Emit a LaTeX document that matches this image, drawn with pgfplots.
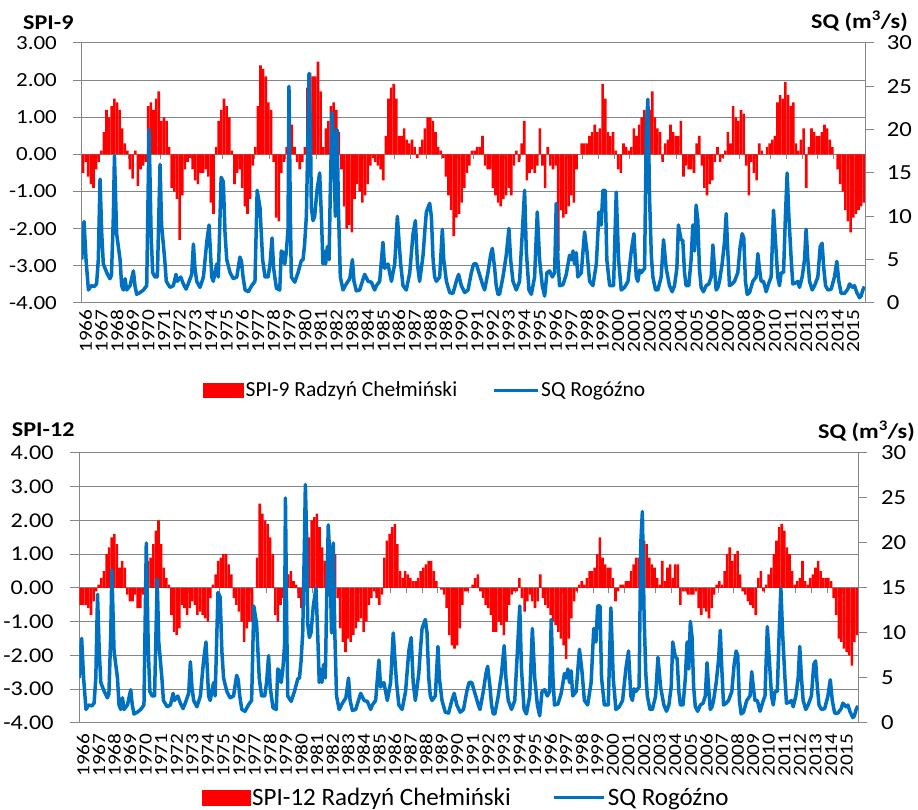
\documentclass[border=0pt]{standalone}
\usepackage{fontspec}
\setmainfont{Carlito}
\newfontfamily\tickfont{Carlito}[FakeStretch=1.15]
\usepackage{pgfplots}
\usepackage{pgfplotstable}
\pgfplotsset{compat=1.18}
\definecolor{spired}{RGB}{255,0,0}
\definecolor{sqblue}{RGB}{0,112,192}
\definecolor{gridgray}{RGB}{134,134,134}

% SPI-9, bimonthly values (Jan-Feb, Mar-Apr, ..., Nov-Dec)
\pgfplotstableread{
yr b1 b2 b3 b4 b5 b6
1966 -0.5 -0.2 -0.6 -0.8 -0.9 -0.4
1967 -0.2 0.1 0.6 1.2 1.0 1.3
1968 1.5 1.4 1.2 0.7 0.3 0.1
1969 -0.4 -0.65 0.1 -0.85 -0.4 -0.3
1970 -0.2 1.3 1.4 1.2 1.5 1.7
1971 0.9 1.0 0.9 0.2 -0.9 -1.0
1972 -1.2 -2.3 -1.1 -0.4 -0.2 -0.1
1973 -0.4 -0.7 -0.8 -0.5 -0.5 -0.4
1974 -0.6 -1.3 -1.6 0.2 0.9 1.2
1975 1.5 1.3 1.0 0.1 -0.8 -0.5
1976 -0.4 -0.9 -1.4 -1.6 -1.2 -0.3
1977 0.2 1.3 2.4 2.3 2.1 1.4
1978 1.2 -0.2 -1.7 -1.8 -0.5 -0.2
1979 0.2 0.4 0.8 0.2 -0.2 -0.4
1980 -0.2 0.2 1.8 2.2 2.1 2.1
1981 2.5 1.7 0.2 0.7 0.9 1.3
1982 1.4 1.2 0.6 -0.4 -1.4 -2.0
1983 -1.9 -2.1 -1.2 -0.8 -1.0 -1.3
1984 -1.1 -0.8 -0.3 -0.1 -0.2 -0.3
1985 -0.4 -0.7 0.5 1.5 1.8 1.9
1986 1.5 0.5 0.5 0.7 0.4 0.3
1987 0.4 0.2 -0.1 0.2 0.4 0.7
1988 1.0 1.0 0.9 0.6 0.2 0.1
1989 -0.1 -0.6 -1.1 -1.5 -2.2 -1.7
1990 -1.6 -1.3 -0.9 -0.5 -0.3 0.1
1991 0.1 0.2 0.2 0.5 -0.3 -0.4
1992 -0.4 -0.9 -1.1 -1.3 -1.4 -1.2
1993 -1.1 -0.9 -1.1 -0.3 0.1 -0.2
1994 0.3 0.9 -0.7 -0.5 -0.4 -0.5
1995 -0.3 0.7 -0.3 -0.9 0.2 -0.3
1996 -0.4 -0.3 -2.6 -1.5 -1.7 -1.6
1997 -1.4 -1.1 -1.3 -0.4 0.0 0.3
1998 0.3 0.3 0.5 0.6 0.8 0.6
1999 0.7 1.9 1.5 0.6 0.5 0.6
2000 0.1 -0.4 -0.5 0.3 0.2 0.1
2001 0.2 0.7 0.5 0.8 1.0 1.2
2002 1.0 1.2 1.7 1.0 0.7 0.6
2003 -0.2 0.3 0.4 0.8 0.6 0.5
2004 0.5 0.9 -0.6 -0.3 -0.4 -0.4
2005 -0.5 0.3 0.5 -0.3 -0.9 -1.1
2006 -0.8 -0.7 -0.2 0.2 -0.2 -0.1
2007 0.1 0.6 0.3 1.3 1.0 0.9
2008 1.2 1.1 -0.3 -1.1 -0.2 -0.5
2009 -0.7 0.3 0.1 0.0 0.2 0.3
2010 0.4 0.5 1.4 1.6 1.5 1.95
2011 1.6 1.3 1.4 0.3 0.1 0.4
2012 0.7 -0.9 0.2 0.7 0.6 0.5
2013 0.5 0.6 0.8 0.7 0.4 0.2
2014 0.0 -0.4 -0.8 -1.0 -1.5 -1.8
2015 -2.1 -1.7 -1.6 -1.5 -1.4 -1.3
}\spinine

% SPI-12, bimonthly values
\pgfplotstableread{
yr b1 b2 b3 b4 b5 b6
1966 -0.5 -0.5 -0.5 -0.6 -0.8 -0.4
1967 -0.1 0.1 0.3 0.5 1.0 1.2
1968 1.5 1.6 1.3 0.6 0.8 0.6
1969 -0.2 -0.4 -0.4 -0.2 -0.6 -0.6
1970 -0.2 0.0 0.8 0.9 1.3 1.7
1971 2.0 1.3 0.6 0.3 0.1 -0.8
1972 -1.3 -1.4 -1.2 -0.5 -0.6 -0.8
1973 -0.6 -0.4 -0.5 -0.8 -0.7 -0.8
1974 -0.9 -1.0 -0.3 0.1 0.4 0.8
1975 0.9 1.0 1.0 0.7 0.4 -0.3
1976 -0.5 -0.7 -1.0 -1.6 -1.2 -1.0
1977 -1.0 0.0 0.9 2.5 2.2 2.0
1978 1.9 1.5 1.0 -0.8 -1.0 -0.5
1979 -0.3 0.1 0.4 0.5 0.2 0.1
1980 -0.3 -0.6 -0.1 0.3 1.5 2.0
1981 2.1 2.2 1.8 1.2 0.8 1.0
1982 1.0 1.1 1.0 -0.3 -1.2 -1.6
1983 -1.9 -1.5 -1.6 -1.4 -1.2 -1.0
1984 -0.9 -1.3 -1.0 -0.5 -0.3 -0.1
1985 -0.3 -0.5 -0.2 0.9 1.4 1.6
1986 1.8 1.9 1.3 0.5 0.3 0.5
1987 0.4 0.3 0.2 0.2 0.3 0.5
1988 0.6 0.7 0.8 0.8 0.5 0.2
1989 0.0 -0.05 -0.2 -0.6 -1.4 -1.7
1990 -1.8 -1.7 -1.2 -0.5 -0.1 -0.1
1991 0.0 0.1 0.3 0.4 -0.1 -0.3
1992 -0.5 -0.6 -0.8 -1.3 -1.3 -1.0
1993 -1.1 -1.4 -1.0 -0.5 -0.2 -0.1
1994 -0.1 0.3 -0.3 -0.7 -0.4 -0.2
1995 -0.4 -0.6 -0.4 0.4 -0.3 -0.5
1996 -0.6 -0.8 -1.0 -1.1 -1.3 -1.5
1997 -1.7 -2.1 -1.5 -0.9 -0.4 -0.1
1998 0.1 0.2 0.1 0.3 0.5 0.5
1999 0.6 1.0 1.5 0.9 0.7 0.6
2000 0.6 0.3 -0.4 -0.1 0.1 0.1
2001 0.2 0.2 0.5 0.7 0.9 0.9
2002 0.8 1.4 1.3 0.9 0.7 0.6
2003 0.3 0.1 0.8 0.2 0.6 0.7
2004 0.3 0.7 0.7 -0.5 -0.1 -0.1
2005 -0.2 -0.2 -0.2 -0.1 -0.6 -0.8
2006 -0.6 -0.7 -0.9 -0.6 -0.2 0.1
2007 0.2 0.1 0.5 1.0 1.2 0.8
2008 1.0 1.1 0.4 -0.1 -0.2 -0.4
2009 -0.5 -0.6 -0.8 0.3 0.5 -0.1
2010 0.1 0.4 0.6 1.0 1.4 1.8
2011 1.9 1.7 1.2 1.0 0.5 0.1
2012 0.2 0.3 0.8 0.2 0.1 0.3
2013 0.4 0.6 0.8 0.5 0.3 0.3
2014 0.3 0.2 -0.3 -0.8 -1.5 -1.6
2015 -1.8 -1.9 -2.0 -2.3 -1.6 -1.4
}\spitwelve

% SQ Rogozno (m3/s)
\pgfplotstableread{
x y
1966.0 5.0
1966.15 9.4
1966.28 4.9
1966.43 1.5
1966.6 2.0
1966.8 1.9
1966.95 2.2
1967.06 5.0
1967.17 14.3
1967.28 8.0
1967.38 4.5
1967.6 3.5
1967.8 2.8
1967.9 3.2
1968.02 10.0
1968.09 17.0
1968.23 8.0
1968.45 5.0
1968.55 2.0
1968.66 1.5
1968.77 2.8
1968.87 1.5
1969.09 2.0
1969.3 3.7
1969.4 2.0
1969.51 1.0
1969.72 1.2
1969.94 1.5
1970.15 2.0
1970.3 20.0
1970.43 8.0
1970.53 3.5
1970.68 3.0
1970.83 3.0
1971.0 16.0
1971.1 9.0
1971.2 7.0
1971.3 5.0
1971.4 2.5
1971.64 1.8
1971.85 2.0
1972.02 3.3
1972.1 2.5
1972.32 3.0
1972.49 2.2
1972.66 1.6
1972.8 2.2
1973.02 3.3
1973.13 6.8
1973.23 4.0
1973.34 2.5
1973.55 1.8
1973.77 3.0
1973.98 7.0
1974.13 9.0
1974.3 3.0
1974.4 2.5
1974.62 4.5
1974.72 3.0
1974.83 10.0
1974.9 14.5
1975.04 14.0
1975.15 8.0
1975.26 5.0
1975.47 3.5
1975.68 2.8
1975.9 3.0
1976.1 5.3
1976.2 4.8
1976.3 3.0
1976.43 1.5
1976.64 1.3
1976.85 2.0
1977.06 2.5
1977.2 13.0
1977.38 11.0
1977.55 5.0
1977.7 3.0
1977.9 3.0
1978.02 4.5
1978.15 7.5
1978.25 4.0
1978.43 1.7
1978.64 1.5
1978.74 6.0
1978.85 5.8
1978.96 4.5
1979.06 5.9
1979.17 8.5
1979.23 25.0
1979.32 10.0
1979.38 3.0
1979.6 2.4
1979.81 3.5
1980.02 4.9
1980.13 5.0
1980.23 6.8
1980.34 10.0
1980.45 20.0
1980.51 26.5
1980.6 20.0
1980.66 11.0
1980.77 9.5
1980.87 10.0
1981.02 13.0
1981.19 15.0
1981.3 10.0
1981.4 4.5
1981.47 6.0
1981.57 4.5
1981.68 6.5
1981.79 5.0
1981.87 13.0
1981.98 22.0
1982.09 18.0
1982.19 10.0
1982.3 20.0
1982.4 10.0
1982.51 3.0
1982.68 1.5
1982.89 2.2
1983.11 2.8
1983.28 5.0
1983.38 2.5
1983.53 1.4
1983.74 1.5
1984.06 3.3
1984.28 2.5
1984.49 2.4
1984.7 1.5
1984.81 2.0
1985.02 2.5
1985.23 7.0
1985.34 4.0
1985.55 4.5
1985.77 2.5
1985.98 4.5
1986.15 10.0
1986.26 7.0
1986.36 4.5
1986.51 2.0
1986.72 1.5
1986.94 3.5
1987.15 8.0
1987.3 9.5
1987.43 4.5
1987.57 2.5
1987.79 5.5
1987.89 8.0
1988.0 10.5
1988.21 11.5
1988.32 10.0
1988.43 5.0
1988.53 3.0
1988.64 2.5
1988.85 3.0
1989.02 8.5
1989.11 5.0
1989.28 2.5
1989.49 1.2
1989.7 1.1
1989.91 2.5
1990.06 3.3
1990.23 2.0
1990.45 1.2
1990.66 1.5
1990.87 3.5
1991.02 4.5
1991.19 4.5
1991.36 3.5
1991.61 2.0
1991.72 1.5
1991.93 3.5
1992.1 5.5
1992.21 6.3
1992.36 4.0
1992.46 2.0
1992.57 1.0
1992.67 1.0
1992.89 3.0
1993.1 5.5
1993.27 8.6
1993.38 5.0
1993.53 2.5
1993.74 1.5
1993.95 2.5
1994.12 8.0
1994.27 13.0
1994.38 6.0
1994.55 1.5
1994.7 1.0
1994.91 3.0
1995.08 10.5
1995.23 5.0
1995.4 2.0
1995.55 0.8
1995.7 3.5
1995.87 3.7
1996.04 3.0
1996.19 3.5
1996.29 11.5
1996.4 5.0
1996.5 2.0
1996.72 2.1
1996.93 3.3
1997.14 5.5
1997.25 5.0
1997.36 6.0
1997.46 4.5
1997.57 5.8
1997.67 3.0
1997.89 3.5
1998.1 8.2
1998.25 6.0
1998.42 2.5
1998.63 2.0
1998.85 4.5
1999.02 10.5
1999.16 9.0
1999.27 13.0
1999.42 13.0
1999.52 5.0
1999.7 2.0
1999.95 2.0
2000.12 12.8
2000.27 5.0
2000.44 1.5
2000.65 1.8
2000.87 2.5
2001.08 6.0
2001.25 8.0
2001.4 3.0
2001.5 2.5
2001.61 3.8
2001.72 3.5
2001.93 4.0
2002.04 20.0
2002.14 23.5
2002.25 12.0
2002.36 5.5
2002.46 3.0
2002.63 1.5
2002.78 1.5
2002.99 3.0
2003.14 7.3
2003.31 4.0
2003.52 2.0
2003.69 1.3
2003.84 2.0
2003.99 4.0
2004.09 9.0
2004.26 7.3
2004.37 7.2
2004.48 3.5
2004.58 2.0
2004.75 2.0
2004.9 5.0
2005.01 9.0
2005.12 6.0
2005.22 11.3
2005.33 9.5
2005.43 4.0
2005.54 1.8
2005.69 1.3
2005.86 2.0
2006.03 2.2
2006.18 3.0
2006.29 6.7
2006.39 4.0
2006.5 1.5
2006.61 1.8
2006.71 2.5
2006.88 4.5
2007.03 7.0
2007.14 10.3
2007.24 6.0
2007.35 2.0
2007.52 2.2
2007.67 2.5
2007.88 3.5
2008.03 6.5
2008.16 8.0
2008.26 7.5
2008.37 2.5
2008.48 1.0
2008.63 1.2
2008.84 2.5
2009.05 3.0
2009.16 5.7
2009.26 4.0
2009.37 2.5
2009.52 2.5
2009.69 1.3
2009.9 2.5
2010.01 3.0
2010.16 10.7
2010.29 7.0
2010.43 3.0
2010.54 2.0
2010.65 3.5
2010.8 3.5
2010.92 10.0
2011.03 15.0
2011.14 10.0
2011.29 5.0
2011.39 2.2
2011.56 2.3
2011.71 2.5
2011.82 1.8
2011.99 3.0
2012.14 5.0
2012.24 8.5
2012.35 5.0
2012.46 2.5
2012.63 1.5
2012.78 2.0
2012.99 3.0
2013.14 6.5
2013.26 6.9
2013.37 4.0
2013.48 2.0
2013.63 1.5
2013.84 1.6
2014.05 3.0
2014.2 4.8
2014.33 2.5
2014.48 1.1
2014.69 1.1
2014.9 1.6
2015.01 2.2
2015.22 1.8
2015.33 2.0
2015.48 1.2
2015.65 0.6
2015.75 0.8
2015.86 1.5
2015.97 1.9
}\sqdata

\pgfplotsset{
  spiaxis/.style={
    scale only axis, xmin=1966, xmax=2016,
    axis y line*=left, axis x line*=middle,
    axis line style={gridgray, line width=1pt},
    xtick={1966,...,2015}, xticklabels={},
    xtick style={gridgray, line width=1pt, /pgfplots/major tick length=5pt},
    xtick align=outside,
    ytick style={gridgray, line width=1pt, /pgfplots/major tick length=9pt},
    ytick align=outside,
    ymajorgrids, grid style={gridgray, line width=1pt},
    yticklabel={\pgfmathprintnumber[fixed,fixed zerofill,precision=2,assume math mode=true]{\tick}},
  },
  sqaxis/.style={
    scale only axis, xmin=1966, xmax=2016, ymin=0, ymax=30,
    axis y line*=right, axis x line*=bottom,
    x axis line style={draw=none},
    y axis line style={gridgray, line width=1pt},
    ytick={0,5,...,30},
    ytick style={gridgray, line width=1pt, /pgfplots/major tick length=9pt},
    ytick align=outside,
    yticklabel={\pgfmathprintnumber[assume math mode=true]{\tick}},
    xtick={1966,...,2015}, xtick style={draw=none},
    xticklabel={\pgfmathprintnumber[fixed,precision=0,1000 sep={},assume math mode=true]{\tick}},
  },
  spibars/.style={ybar, bar width=0.16667, bar shift=0, fill=spired, draw=none},
}

\begin{document}
\begin{tikzpicture}
\useasboundingbox (0,0) rectangle (918pt,810pt);

% ---------------- top panel: SPI-9 ----------------
\begin{axis}[spiaxis, at={(81.7pt,507pt)}, anchor=south west,
  width=783.3pt, height=260pt, ymin=-4, ymax=3, ytick={-4,-3,...,3},
  yticklabel style={font=\tickfont\fontsize{20}{20}\selectfont, xshift=-17pt}]
\addplot[spibars] table[x expr=\thisrow{yr}+0.08333, y=b1]{\spinine};
\addplot[spibars] table[x expr=\thisrow{yr}+0.25, y=b2]{\spinine};
\addplot[spibars] table[x expr=\thisrow{yr}+0.41667, y=b3]{\spinine};
\addplot[spibars] table[x expr=\thisrow{yr}+0.58333, y=b4]{\spinine};
\addplot[spibars] table[x expr=\thisrow{yr}+0.75, y=b5]{\spinine};
\addplot[spibars] table[x expr=\thisrow{yr}+0.91667, y=b6]{\spinine};
\end{axis}
\begin{axis}[sqaxis, at={(81.7pt,507pt)}, anchor=south west,
  width=783.3pt, height=260pt,
  yticklabel style={font=\tickfont\fontsize{21.5}{21.5}\selectfont, xshift=14pt},
  xticklabel style={font=\tickfont\fontsize{18.5}{18.5}\selectfont, xshift=4pt, yshift=-3pt, rotate=90, anchor=east},
  legend style={at={(axis description cs:0.155,-0.335)}, anchor=west, draw=none, fill=none,
    inner sep=0pt, legend columns=2, font=\fontsize{21.5}{21.5}\selectfont,
    /tikz/every even column/.append style={column sep=33pt}},
  legend cell align=left]
\addlegendimage{legend image code/.code={\fill[spired] (0pt,-7pt) rectangle (40pt,7pt);}}
\addlegendentry{SPI-9 Radzyń Chełmiński}
\addplot[sqblue, line width=3.5pt, line join=round,
  legend image code/.code={\draw[sqblue, line width=3pt] (0pt,0pt) -- (44pt,0pt);}]
  table[x=x, y=y]{\sqdata};
\addlegendentry{SQ Rogóźno}
\end{axis}

% ---------------- bottom panel: SPI-12 ----------------
\begin{axis}[spiaxis, at={(79.3pt,87pt)}, anchor=south west,
  width=779pt, height=270pt, ymin=-4, ymax=4, ytick={-4,-3,...,4},
  yticklabel style={font=\tickfont\fontsize{21}{21}\selectfont, xshift=-18pt}]
\addplot[spibars] table[x expr=\thisrow{yr}+0.08333, y=b1]{\spitwelve};
\addplot[spibars] table[x expr=\thisrow{yr}+0.25, y=b2]{\spitwelve};
\addplot[spibars] table[x expr=\thisrow{yr}+0.41667, y=b3]{\spitwelve};
\addplot[spibars] table[x expr=\thisrow{yr}+0.58333, y=b4]{\spitwelve};
\addplot[spibars] table[x expr=\thisrow{yr}+0.75, y=b5]{\spitwelve};
\addplot[spibars] table[x expr=\thisrow{yr}+0.91667, y=b6]{\spitwelve};
\end{axis}
\begin{axis}[sqaxis, at={(79.3pt,87pt)}, anchor=south west,
  width=779pt, height=270pt,
  yticklabel style={font=\tickfont\fontsize{21.5}{21.5}\selectfont, xshift=15pt},
  xticklabel style={font=\tickfont\fontsize{18.5}{18.5}\selectfont, xshift=4pt, yshift=-7pt, rotate=90, anchor=east},
  legend style={at={(axis description cs:0.157,-0.275)}, anchor=west, draw=none, fill=none,
    inner sep=0pt, legend columns=2, font=\fontsize{25}{25}\selectfont,
    /tikz/every even column/.append style={column sep=40pt}},
  legend cell align=left]
\addlegendimage{legend image code/.code={\fill[spired] (0pt,-7.5pt) rectangle (48pt,7.5pt);}}
\addlegendentry{SPI-12 Radzyń Chełmiński}
\addplot[sqblue, line width=3.5pt, line join=round,
  legend image code/.code={\draw[sqblue, line width=3pt] (0pt,0pt) -- (50pt,0pt);}]
  table[x=x, y=y]{\sqdata};
\addlegendentry{SQ Rogóźno}
\end{axis}

% titles
\node[anchor=base west, inner sep=0pt, font=\tickfont\bfseries\fontsize{21}{21}\selectfont] at (23pt,780pt) {SPI-9};
\node[anchor=base east, inner sep=0pt, font=\tickfont\bfseries\fontsize{21}{21}\selectfont] at (908pt,781.5pt) {SQ (m\textsuperscript{3}/s)};
\node[anchor=base west, inner sep=0pt, font=\tickfont\bfseries\fontsize{21}{21}\selectfont] at (11.7pt,373pt) {SPI-12};
\node[anchor=base east, inner sep=0pt, font=\tickfont\bfseries\fontsize{21}{21}\selectfont] at (915pt,371.7pt) {SQ (m\textsuperscript{3}/s)};
\end{tikzpicture}
\end{document}
